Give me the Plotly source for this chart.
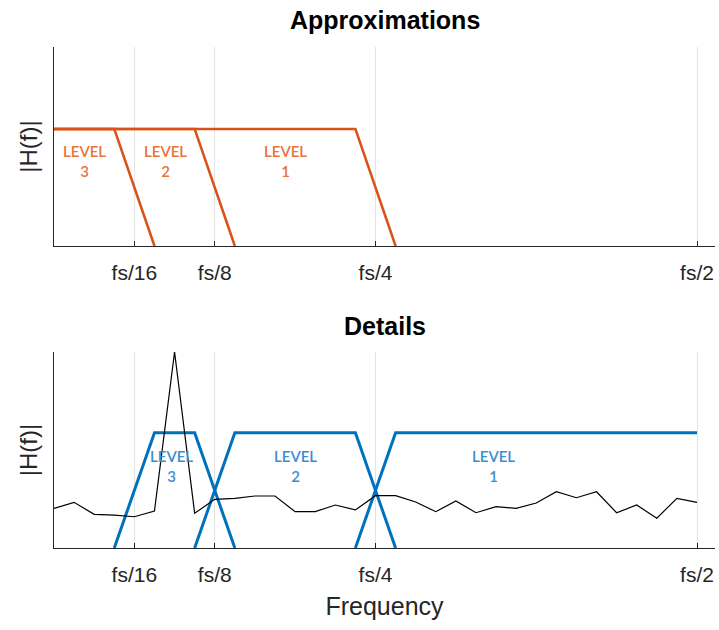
import plotly.graph_objects as go

# Normalised frequency (fraction of fs)
tick_vals = [1 / 16, 1 / 8, 1 / 4, 1 / 2]
tick_text = ["fs/16", "fs/8", "fs/4", "fs/2"]

# Approximation (low-pass) filter shapes: x breakpoints and magnitudes
approx_l1_x = [0, 15 / 64, 17 / 64]
approx_l2_x = [0, 7 / 64, 9 / 64]
approx_l3_x = [0, 3 / 64, 5 / 64]
approx_y = [1, 1, 0]

# Detail (band-pass / high-pass) filter shapes
detail_l1_x = [15 / 64, 17 / 64, 1 / 2]
detail_l1_y = [0, 1, 1]
detail_l2_x = [7 / 64, 9 / 64, 15 / 64, 17 / 64]
detail_l3_x = [3 / 64, 5 / 64, 7 / 64, 9 / 64]
detail_band_y = [0, 1, 1, 0]

# Signal spectrum sampled at k/64, k = 0..32
spec_x = [k / 64 for k in range(33)]
spec_y = [0.344, 0.396, 0.292, 0.286, 0.271, 0.321, 1.70, 0.301, 0.422,
          0.431, 0.451, 0.451, 0.315, 0.315, 0.373, 0.330, 0.454, 0.454,
          0.399, 0.315, 0.408, 0.306, 0.358, 0.344, 0.390, 0.488, 0.436,
          0.488, 0.306, 0.373, 0.258, 0.431, 0.396]

# Level labels: (x, y, text)
approx_labels = [(0.024, 0.73, "LEVEL<br>3"), (0.087, 0.73, "LEVEL<br>2"),
                 (0.180, 0.73, "LEVEL<br>1")]
detail_labels = [(0.0916, 0.71, "LEVEL<br>3"), (0.188, 0.71, "LEVEL<br>2"),
                 (0.342, 0.71, "LEVEL<br>1")]

ORANGE = "#D95319"
BLUE = "#0072BD"
AXC = "#262626"
FONT = "Arial"
LBL_FONT = "Lato"

H = 630


def py(px):
    """Convert a pixel row (from the top) to a paper fraction."""
    return 1 - px / H


fig = go.Figure()

for xs in (approx_l1_x, approx_l2_x, approx_l3_x):
    fig.add_trace(go.Scatter(x=xs, y=approx_y, mode="lines",
                             line=dict(color=ORANGE, width=2.6),
                             xaxis="x", yaxis="y", showlegend=False,
                             hoverinfo="skip"))

fig.add_trace(go.Scatter(x=detail_l1_x, y=detail_l1_y, mode="lines",
                         line=dict(color=BLUE, width=3),
                         xaxis="x2", yaxis="y2", showlegend=False))
for xs in (detail_l2_x, detail_l3_x):
    fig.add_trace(go.Scatter(x=xs, y=detail_band_y, mode="lines",
                             line=dict(color=BLUE, width=3),
                             xaxis="x2", yaxis="y2", showlegend=False))

fig.add_trace(go.Scatter(x=spec_x, y=spec_y, mode="lines",
                         line=dict(color="black", width=1.2),
                         xaxis="x2", yaxis="y2", showlegend=False))

annotations = []
for x, y, t in approx_labels:
    annotations.append(dict(x=x, y=y, xref="x", yref="y", text=t,
                            showarrow=False,
                            font=dict(family=LBL_FONT, size=15, weight=600,
                                      color="#E8733A")))
for x, y, t in detail_labels:
    annotations.append(dict(x=x, y=y, xref="x2", yref="y2", text=t,
                            showarrow=False,
                            font=dict(family=LBL_FONT, size=15, weight=600,
                                      color="#3A8ED0")))

# Panel titles
annotations.append(dict(x=0.5, y=py(20), xref="paper", yref="paper",
                        yanchor="middle", text="<b>Approximations</b>",
                        showarrow=False,
                        font=dict(family=FONT, size=25, color="black")))
annotations.append(dict(x=0.5, y=py(326), xref="paper", yref="paper",
                        yanchor="middle", text="<b>Details</b>",
                        showarrow=False,
                        font=dict(family=FONT, size=25, color="black")))

xaxis_common = dict(range=[0, 0.514], tickvals=tick_vals, ticktext=tick_text,
                    showgrid=True, gridcolor="#e3e3e3", gridwidth=1,
                    showline=True, linecolor=AXC, linewidth=1.3,
                    ticks="inside", ticklen=5, tickcolor=AXC,
                    tickfont=dict(family=FONT, size=21, color=AXC),
                    ticklabelstandoff=8, zeroline=False, fixedrange=True)
yaxis_common = dict(range=[0, 1.7], showticklabels=False, ticks="",
                    showgrid=False, zeroline=False, showline=True,
                    linecolor=AXC, linewidth=1.3, fixedrange=True)

fig.update_layout(
    width=719, height=630,
    margin=dict(l=54, r=4, t=0, b=0),
    plot_bgcolor="white", paper_bgcolor="white",
    xaxis=dict(domain=[0, 1], anchor="y", **xaxis_common),
    yaxis=dict(domain=[py(246), py(47)], anchor="x",
               title=dict(text="|H(f)|", standoff=8,
                          font=dict(family=FONT, size=24, color=AXC)),
               **yaxis_common),
    xaxis2=dict(domain=[0, 1], anchor="y2",
                title=dict(text="Frequency", standoff=12,
                           font=dict(family=FONT, size=25, color=AXC)),
                **xaxis_common),
    yaxis2=dict(domain=[py(548), py(352)], anchor="x2",
                title=dict(text="|H(f)|", standoff=8,
                           font=dict(family=FONT, size=24, color=AXC)),
                **yaxis_common),
    annotations=annotations,
)

fig.write_html("out.html")
